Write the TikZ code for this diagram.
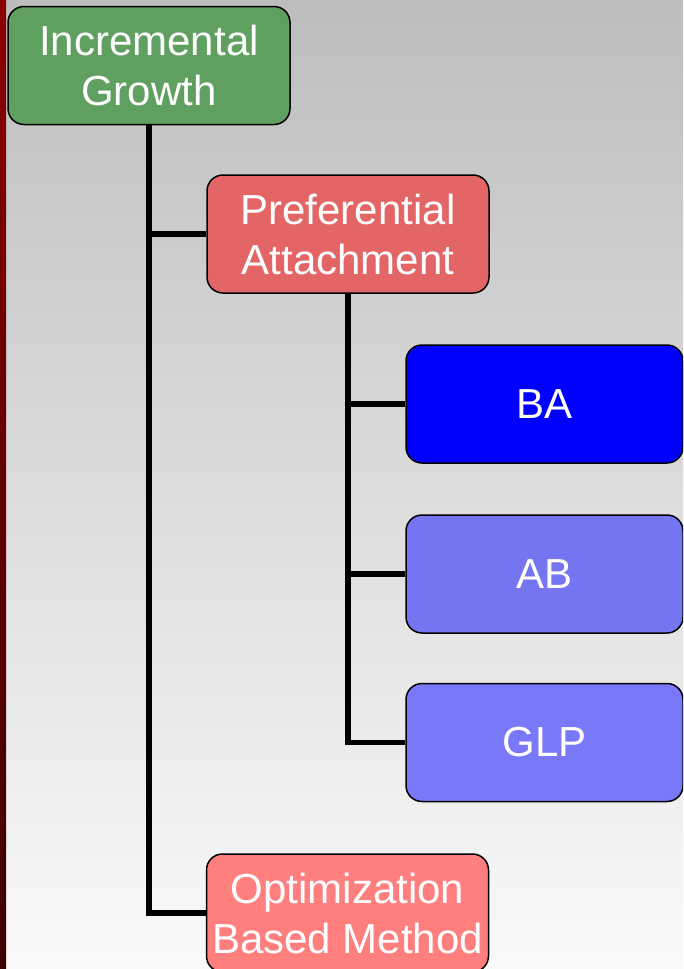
\documentclass[tikz,border=0pt]{standalone}
\usepackage{fontspec}
\setmainfont{Liberation Sans}
\definecolor{bgtop}{HTML}{BDBDBD}
\definecolor{bgbot}{HTML}{FAFAFA}
\definecolor{striptop}{HTML}{8B0000}
\definecolor{stripbot}{HTML}{3C0000}
\definecolor{igfill}{HTML}{5FA060}
\definecolor{pafill}{HTML}{E36566}
\definecolor{bafill}{HTML}{0000FF}
\definecolor{abfill}{HTML}{7575F2}
\definecolor{glpfill}{HTML}{7878F8}
\definecolor{obfill}{HTML}{FF7F7F}
\begin{document}
\begin{tikzpicture}[x=1pt,y=-1pt,
  box/.style={draw=black, line width=1.5pt, rounded corners=16pt, text=white,
    font=\fontsize{42}{50}\selectfont, align=center, inner sep=0pt,
    minimum width=282pt, minimum height=118pt},
  leafbox/.style={box, minimum width=277pt},
  conn/.style={line width=5.5pt, line join=miter}]
\useasboundingbox (0,0) rectangle (683,969);
\clip (0,0) rectangle (683,969);
\shade[top color=bgtop, bottom color=bgbot] (0,0) rectangle (683,969);
\shade[top color=striptop, bottom color=stripbot] (0,0) rectangle (6,969);

\node[box, fill=igfill] (ig) at (149,65.5) {Incremental\\Growth};
\node[box, fill=pafill] (pa) at (348,234) {Preferential\\Attachment};
\node[leafbox, fill=bafill] (ba) at (544.5,404) {BA};
\node[leafbox, fill=abfill] (ab) at (544.5,574) {AB};
\node[leafbox, fill=glpfill] (glp) at (544.5,742.5) {GLP};
\node[box, fill=obfill] (ob) at (347.5,913) {Optimization\\Based Method};

\draw[conn] (ig.south) |- (ob.west);
\draw[conn] (ig.south) |- (pa.west);
\draw[conn] (pa.south) |- (glp.west);
\draw[conn] (pa.south) |- (ba.west);
\draw[conn] (pa.south) |- (ab.west);
\end{tikzpicture}
\end{document}
